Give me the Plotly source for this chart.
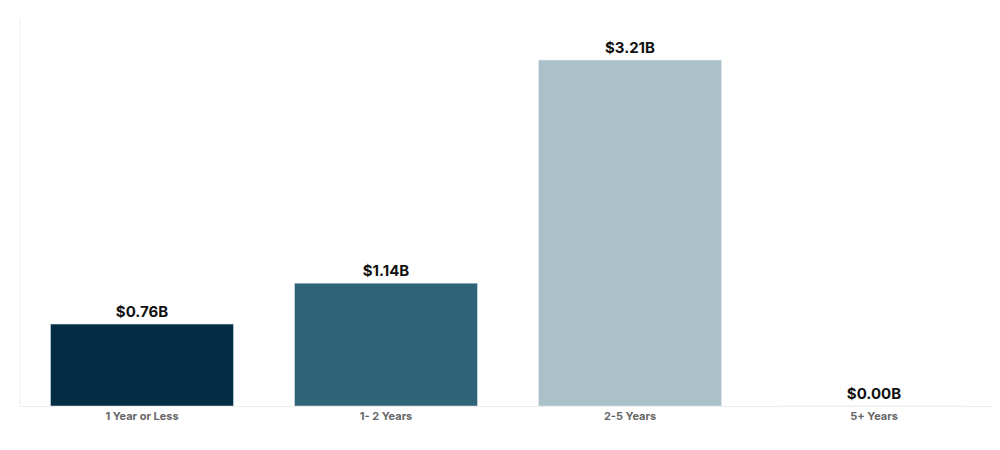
import plotly.graph_objects as go

categories = ["1 Year or Less", "1- 2 Years", "2-5 Years", "5+ Years"]
values = [0.76, 1.14, 3.21, 0.0]
labels = ["$0.76B", "$1.14B", "$3.21B", "$0.00B"]
colors = ["#032d42", "#2f6478", "#abc1c9", "#abc1c9"]

fig = go.Figure(go.Bar(
    x=categories, y=values, marker=dict(color=colors),
    text=labels, textposition="outside", cliponaxis=False,
    textfont=dict(family="Inter", size=15, color="#111111", weight="bold"),
))
fig.update_layout(
    width=1000, height=450, margin=dict(l=12, r=12, t=10, b=52),
    plot_bgcolor="white", paper_bgcolor="white", bargap=0.25, showlegend=False,
    font=dict(family="Inter"),
)
fig.update_yaxes(range=[0, 3.6], visible=False)
fig.update_xaxes(showline=True, linecolor="#eeeeee", linewidth=1,
                 tickfont=dict(size=11, color="#666666", weight="bold"))
fig.add_shape(type="line", xref="paper", yref="paper", x0=0, x1=0, y0=0, y1=1,
              line=dict(color="#f0f0f0", width=1))
fig.write_html("out.html")
